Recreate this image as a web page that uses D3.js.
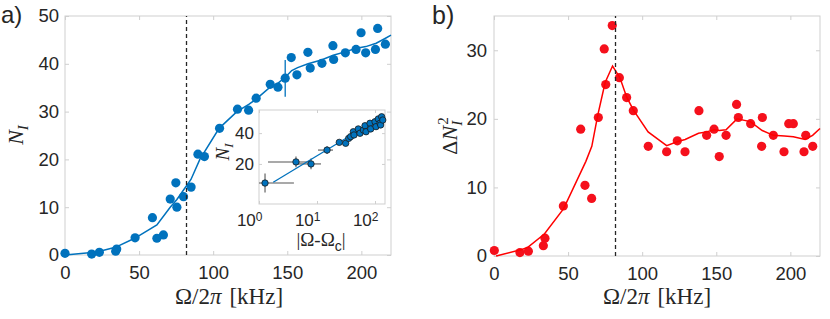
<!DOCTYPE html>
<html>
<head>
<meta charset="utf-8">
<script src="https://cdn.jsdelivr.net/npm/d3@7"></script>
<style>
  body { margin: 0; background: #fff; }
  svg text { font-family: 'Liberation Sans', Arial, sans-serif; fill: #262626; }
  svg text.math { font-family: 'Liberation Serif', 'Times New Roman', serif; }
</style>
</head>
<body>
<div id="app"></div>
<script>
// panel a: N_I vs drive frequency
const omegaA = [0, 18, 23.2, 34.2, 34.9, 47.3, 59, 62, 66.4, 71, 74.8, 75.5, 80, 85.1,
  89.7, 94.1, 104.3, 116.4, 123.9, 129, 138.5, 143.7, 148.6, 152.7, 156.5, 163.9, 165.5,
  173.4, 180.8, 181.3, 189.2, 196.4, 199.8, 202.9, 209.5, 211, 216.2]
const nA = [0.35, 0.2, 0.55, 0.8, 1.25, 3.6, 7.8, 3.5, 4.2, 11.7, 15.1, 10, 12.2, 14.2,
  21.1, 20.6, 26.5, 30.5, 30.3, 32.8, 35.7, 35.1, 37, 41.3, 37.7, 42.4, 39.1,
  40.1, 43.8, 40.9, 42.3, 43, 46.5, 42.3, 43, 47.4, 44.1]
const fitOmegaA = [0, 18, 23.5, 34, 47, 62, 71, 75.5, 80, 85, 91, 104, 116, 124, 129, 138,
  144, 149, 153, 157, 164, 173, 181, 189, 196, 203, 210, 216, 220]
const fitNA = [0, 0.5, 0.8, 1.6, 3.5, 6.3, 10, 11.6, 13.6, 15.8, 20, 26.5, 30, 31.5, 32.6, 35,
  36, 37.3, 38.6, 39.2, 40, 40.8, 41.8, 42.5, 43.2, 43.6, 44.3, 45.3, 46]
const errOmegaA = [148.6]
const errLoA = [33.1]
const errHiA = [40.8]

// inset: N_I vs |Omega - Omega_c|
const insetDx = [1.27, 4.34, 7.88, 14.9, 24.2, 31.2, 35.2, 38, 42.3, 43.4, 51.5, 55.1, 63,
  67.2, 70, 82, 84.2, 100, 104, 114, 122, 125, 130, 136]
const insetN = [7.6, 21.3, 20, 29, 34, 33.4, 36.6, 37.7, 40.9, 38.8, 42.7, 39.9, 42,
  44.8, 40.9, 46.4, 42.7, 47.4, 44.2, 49.2, 46.4, 45.3, 50.6, 48.5]
const insetErrXlo = [1, 1.43, 4.52, 10.4]
const insetErrXhi = [4, 7.29, 11.7, 18.9]
const insetErrN = [6.2, 3.5, 3.5, 2.5]
const insetFitDx = [1.76, 130]
const insetFitN = [8.1, 50.6]

// panel b: number variance
const omegaB = [0.2, 17.5, 23.2, 33.3, 34.4, 46.8, 61.4, 65.9, 58.5, 70.4, 75.4, 74.4, 79.8,
  84.6, 89.5, 94, 104.1, 116.5, 123.7, 128.9, 138.3, 143.5, 148.5, 152, 156.6, 163.7, 164.9,
  173.2, 181.1, 180.6, 188.5, 195.7, 198.9, 202, 209.2, 210.4, 215.1]
const dnB = [0.8, 0.5, 0.7, 1.5, 2.6, 7.3, 10.3, 8.4, 18.5, 20.2, 25, 30.2, 33.6,
  26, 23.1, 21.2, 16, 15.2, 16.8, 15.2, 21.2, 17.6, 18.5, 14.5, 17.6, 22.1, 20.2,
  19.3, 20.2, 16, 17.6, 15.2, 19.3, 19.3, 15.2, 17.6, 16]
const fitOmegaB = [1.4, 18, 23, 34, 47, 62, 66, 70, 75, 80, 85, 89.5, 94, 104, 116.5, 124,
  129, 138, 143.5, 148.5, 152, 156.6, 164, 173, 181, 188.5, 196, 202, 210, 215, 220]
const fitDnB = [0, 0.9, 1.3, 3.2, 6.9, 13.8, 16, 20.5, 25.3, 27.7, 26, 23.2, 21.3, 18.1, 16.1, 16.7,
  17, 17.9, 18.1, 18.4, 18.3, 18.4, 20, 19.6, 18.3, 17.6, 17.5, 17.4, 17, 17.6, 18.6]

const omegaC = 82
const xTicks = [0, 50, 100, 150, 200]
const yTicksA = [0, 10, 20, 30, 40, 50]
const yTicksB = [0, 10, 20, 30]
const insetXTicks = [1, 10, 100]
const insetYTicks = [20, 40]

;(function (d3) {

  'use strict'

  const w = 830
  const h = 319
  const blue = '#0072BD'
  const red = '#f5101c'
  const boxColor = '#cfcfcf'

  const svg = d3.select('#app')
  .append('svg')
  .attr('width', w)
  .attr('height', h)

  // box, inward ticks on all four sides, labels bottom/left
  const frame = function (x, y, xt, yt, opts) {
    const g = svg.append('g')
    const [x0, x1] = x.range()
    const [y0, y1] = y.range()
    g.append('rect')
    .attr('x', x0).attr('y', y1)
    .attr('width', x1 - x0).attr('height', y0 - y1)
    .attr('fill', '#fff')
    .attr('stroke', boxColor)

    const fmt = opts.fmt || d3.format('d')
    const axes = [
      ['bottom', d3.axisBottom(x).tickValues(xt).tickFormat(fmt).tickPadding(opts.xpad), `translate(0,${y0})`],
      ['top', d3.axisTop(x).tickValues(xt).tickFormat(''), `translate(0,${y1})`],
      ['left', d3.axisLeft(y).tickValues(yt).tickFormat(d3.format('d')).tickPadding(opts.ypad), `translate(${x0},0)`],
      ['right', d3.axisRight(y).tickValues(yt).tickFormat(''), `translate(${x1},0)`]
    ]
    axes.forEach(function (a) {
      const ax = g.append('g')
      .attr('class', 'ax-' + a[0])
      .attr('transform', a[2])
      .call(a[1].tickSizeInner(-opts.tick).tickSizeOuter(0))
      ax.select('.domain').remove()
      ax.selectAll('.tick line').attr('stroke', boxColor)
      ax.selectAll('.tick text')
      .attr('font-size', opts.fs)
      .attr('font-family', null)
      .attr('fill', '#262626')
    })
    return g
  }

  const dashed = function (x, y, v) {
    svg.append('line')
    .attr('x1', x(v)).attr('x2', x(v))
    .attr('y1', y.range()[0]).attr('y2', y.range()[1])
    .attr('stroke', '#262626')
    .attr('stroke-width', 1.3)
    .attr('stroke-dasharray', '4,3')
  }

  // ---- panel a ----
  const xa = d3.scaleLinear().domain([0, 220]).range([65, 391])
  const ya = d3.scaleLinear().domain([0, 50]).range([255, 16])
  frame(xa, ya, xTicks, yTicksA, { fs: 18.5, xpad: 11, ypad: 6, tick: 4 })

  svg.append('g')
  .selectAll('circle')
  .data(omegaA)
  .enter()
  .append('circle')
  .attr('cx', d => xa(d))
  .attr('cy', (d, i) => ya(nA[i]))
  .attr('r', 4.6)
  .attr('fill', blue)

  svg.append('g')
  .selectAll('line')
  .data(errOmegaA)
  .enter()
  .append('line')
  .attr('x1', d => xa(d)).attr('x2', d => xa(d))
  .attr('y1', (d, i) => ya(errLoA[i])).attr('y2', (d, i) => ya(errHiA[i]))
  .attr('stroke', blue)
  .attr('stroke-width', 1.3)

  svg.append('path')
  .datum(fitOmegaA)
  .attr('d', d3.line().x(d => xa(d)).y((d, i) => ya(fitNA[i])))
  .attr('fill', 'none')
  .attr('stroke', blue)
  .attr('stroke-width', 1.5)

  dashed(xa, ya, omegaC)

  // ---- inset ----
  const xi = d3.scaleLog().domain([1, 148.6]).range([259, 385])
  const yi = d3.scaleLinear().domain([-6, 55]).range([204, 110])
  const ig = frame(xi, yi, insetXTicks, insetYTicks, { fs: 17, xpad: 10, ypad: 5, tick: 3, fmt: d => d })
  ig.select('.ax-bottom')
  .selectAll('.tick text')
  .each(function (d) {
    const t = d3.select(this)
    t.text('10').attr('text-anchor', 'end').attr('x', 3)
    t.append('tspan').attr('dy', '-0.45em').attr('font-size', 12).text(Math.round(Math.log10(d)))
  })

  svg.append('clipPath').attr('id', 'insetClip')
  .append('rect').attr('x', 259).attr('y', 110).attr('width', 126).attr('height', 94)
  const inner = svg.append('g').attr('clip-path', 'url(#insetClip)')

  const eb = inner.append('g').attr('stroke', '#555').attr('stroke-width', 1.1)
  insetErrXlo.forEach(function (lo, i) {
    const cy = yi(insetN[i])
    const cx = xi(insetDx[i])
    eb.append('line').attr('x1', xi(lo)).attr('x2', xi(insetErrXhi[i])).attr('y1', cy).attr('y2', cy)
    eb.append('line').attr('x1', cx).attr('x2', cx)
    .attr('y1', yi(insetN[i] - insetErrN[i])).attr('y2', yi(insetN[i] + insetErrN[i]))
  })

  inner.append('path')
  .datum(insetFitDx)
  .attr('d', d3.line().x(d => xi(d)).y((d, i) => yi(insetFitN[i])))
  .attr('stroke', blue)
  .attr('stroke-width', 1.3)
  .attr('fill', 'none')

  svg.append('g')
  .selectAll('circle')
  .data(insetDx)
  .enter()
  .append('circle')
  .attr('cx', d => xi(d))
  .attr('cy', (d, i) => yi(insetN[i]))
  .attr('r', 3.2)
  .attr('fill', blue)
  .attr('stroke', '#1a1a1a')
  .attr('stroke-width', 0.8)

  const il = svg.append('text')
  .attr('class', 'math')
  .attr('x', 321).attr('y', 246)
  .attr('text-anchor', 'middle')
  .attr('font-size', 19)
  il.append('tspan').text('|Ω-Ω')
  il.append('tspan').attr('dy', 5).attr('font-size', 14).attr('font-family', 'Liberation Sans, Arial, sans-serif').text('c')
  il.append('tspan').attr('dy', -5).text('|')

  const iy = svg.append('text')
  .attr('class', 'math')
  .attr('transform', 'translate(229,152) rotate(-90)')
  .attr('text-anchor', 'middle')
  .attr('font-size', 19)
  iy.append('tspan').attr('font-style', 'italic').text('N')
  iy.append('tspan').attr('font-style', 'italic').attr('dy', 4).attr('font-size', 13).text('I')

  // ---- panel b ----
  const xb = d3.scaleLinear().domain([0, 220]).range([494, 820])
  const yb = d3.scaleLinear().domain([0, 35]).range([256, 16])
  frame(xb, yb, xTicks, yTicksB, { fs: 18.5, xpad: 11, ypad: 7, tick: 4 })

  svg.append('g')
  .selectAll('circle')
  .data(omegaB)
  .enter()
  .append('circle')
  .attr('cx', d => xb(d))
  .attr('cy', (d, i) => yb(dnB[i]))
  .attr('r', 4.6)
  .attr('fill', red)

  svg.append('path')
  .datum(fitOmegaB)
  .attr('d', d3.line().x(d => xb(d)).y((d, i) => yb(fitDnB[i])))
  .attr('fill', 'none')
  .attr('stroke', '#ff0000')
  .attr('stroke-width', 1.5)

  dashed(xb, yb, omegaC)

  // ---- labels ----
  const xlabel = function (cx) {
    const t = svg.append('text')
    .attr('class', 'math')
    .attr('x', cx).attr('y', 304)
    .attr('text-anchor', 'middle')
    .attr('font-size', 23)
    t.append('tspan').text('Ω/2')
    t.append('tspan').attr('font-style', 'italic').text('π')
    t.append('tspan').attr('dx', 8).text('[kHz]')
  }
  xlabel(229)
  xlabel(657)

  const yaLab = svg.append('text')
  .attr('class', 'math')
  .attr('transform', 'translate(23,135) rotate(-90)')
  .attr('text-anchor', 'middle')
  .attr('font-size', 22)
  yaLab.append('tspan').attr('font-style', 'italic').text('N')
  yaLab.append('tspan').attr('font-style', 'italic').attr('dy', 5).attr('font-size', 15).text('I')

  const ybLab = svg.append('text')
  .attr('class', 'math')
  .attr('transform', 'translate(457,136) rotate(-90)')
  .attr('text-anchor', 'middle')
  .attr('font-size', 22)
  ybLab.append('tspan').text('Δ')
  ybLab.append('tspan').attr('font-style', 'italic').text('N')
  ybLab.append('tspan').attr('font-style', 'italic').attr('dy', 5).attr('font-size', 15).text('I')
  ybLab.append('tspan').attr('dx', -4).attr('dy', -14).attr('font-size', 15).text('2')

  svg.append('text').attr('x', 1).attr('y', 23).attr('font-size', 24).text('a)')
  svg.append('text').attr('x', 432).attr('y', 24).attr('font-size', 25).text('b)')

}(d3))
</script>
</body>
</html>
